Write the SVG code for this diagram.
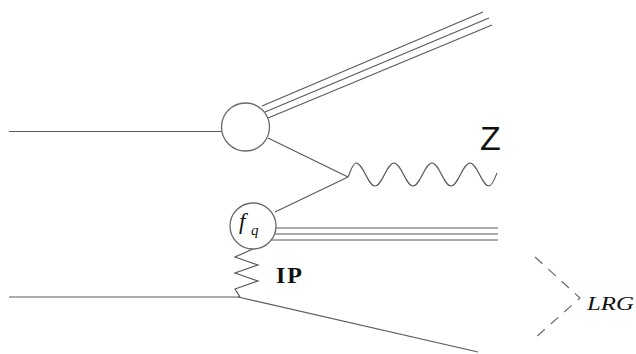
<svg xmlns="http://www.w3.org/2000/svg" width="636" height="354" viewBox="0 0 636 354">
<style>
.ln{stroke:#5a5a5a;stroke-width:1.2;fill:none}
.nd{stroke:#6a6a6a;stroke-width:1.3;fill:#fff}
.dash{stroke:#6a6a6a;stroke-width:1.2;fill:none;stroke-dasharray:10 8}
</style>
<rect width="636" height="354" fill="#fff"/>
<g id="connectors">
<line class="ln" x1="9" y1="131.5" x2="222" y2="131.5"/>
<line class="ln" x1="262" y1="106" x2="483" y2="12"/>
<line class="ln" x1="265" y1="112" x2="489" y2="18"/>
<line class="ln" x1="268" y1="118" x2="492" y2="25"/>
<line class="ln" x1="268" y1="138" x2="348" y2="177"/>
<line class="ln" x1="348" y1="177" x2="275" y2="212"/>
<path class="ln" d="M348,177 C351,170 353,163 356,163 C363,163 368,186 375,186 C382,186 387,163 394,163 C401,163 406,186 413,186 C420,186 425,163 432,163 C439,163 444,186 451,186 C458,186 463,163 470,163 C477,163 482,186 489,186 C492,186 495,178 497,173"/>
<line class="ln" x1="276" y1="228" x2="498" y2="228"/>
<line class="ln" x1="275" y1="234" x2="498" y2="234"/>
<line class="ln" x1="271" y1="240" x2="498" y2="240"/>
<path class="ln" d="M253,249 L235,257 L258,265 L235,273 L258,281 L235,289 L240,297"/>
<line class="ln" x1="9" y1="297" x2="240" y2="297"/>
<line class="ln" x1="238" y1="297" x2="478" y2="352"/>
<path class="dash" d="M535,257 L580,298 L535,338"/>
</g>
<g id="node-vertex1">
<circle class="nd" cx="245.5" cy="127" r="24"/>
</g>
<g id="node-fq">
<circle class="nd" cx="253" cy="226" r="23"/>
<text x="239" y="229" font-family="Liberation Serif, serif" font-style="italic" font-size="23" fill="#111">f</text>
<text x="251" y="235" font-family="Liberation Serif, serif" font-style="italic" font-size="15" fill="#111">q</text>
</g>
<g id="labels">
<text x="480" y="150" font-family="Liberation Sans, sans-serif" font-size="34" fill="#111">Z</text>
<text x="276" y="283" font-family="Liberation Serif, serif" font-weight="bold" font-size="24" fill="#111" letter-spacing="2">IP</text>
<text x="587" y="310" font-family="Liberation Serif, serif" font-style="italic" font-size="19" fill="#111" textLength="47" lengthAdjust="spacingAndGlyphs">LRG</text>
</g>
</svg>
